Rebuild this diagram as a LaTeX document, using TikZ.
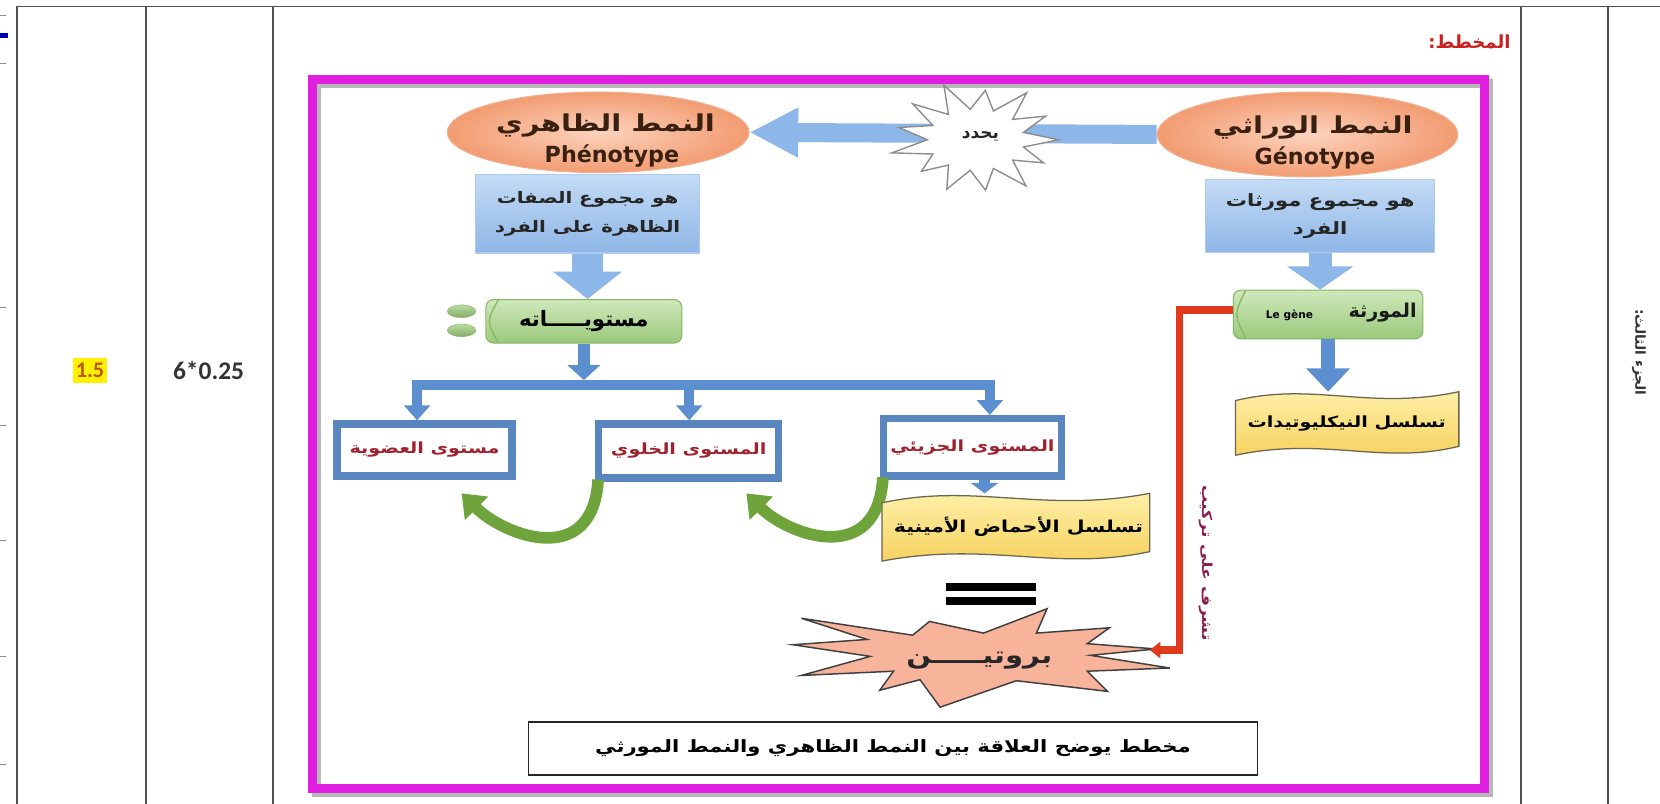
\documentclass[tikz,border=0pt]{standalone}
\usepackage{fontspec}
\setmainfont{Liberation Sans}
\newfontfamily\arfont[Script=Arabic]{DejaVu Sans}
\newfontfamily\arwide[Script=Arabic, FakeStretch=1.25]{DejaVu Sans}
\newfontfamily\latbold{DejaVu Sans}
\newfontfamily\calfont{Carlito}
\TeXXeTstate=1
\usetikzlibrary{arrows.meta,calc,shapes.geometric}
\newcommand\AR[1]{{\arfont\beginR #1\endR}}
\newcommand\ARW[1]{{\arwide\beginR #1\endR}}

\definecolor{frameMag}{HTML}{E01FE0}
\definecolor{rule}{HTML}{505050}
\definecolor{salmonIn}{HTML}{FCD3BD}
\definecolor{salmonOut}{HTML}{F29C72}
\definecolor{salmonEdge}{HTML}{F3AE8C}
\definecolor{inkBrown}{HTML}{3A2010}
\definecolor{skyTop}{HTML}{C4DBF5}
\definecolor{skyBot}{HTML}{8EB6E6}
\definecolor{skyArrow}{HTML}{8DB7E8}
\definecolor{steel}{HTML}{5B8FD0}
\definecolor{boxBlue}{HTML}{5A86C0}
\definecolor{leafTop}{HTML}{CFE8BA}
\definecolor{leafBot}{HTML}{9BC97C}
\definecolor{leafEdge}{HTML}{88B768}
\definecolor{levelInk}{HTML}{A0222E}
\definecolor{arcGreen}{HTML}{6FA43C}
\definecolor{wheatTop}{HTML}{FFF3B2}
\definecolor{wheatBot}{HTML}{F5CE55}
\definecolor{wheatEdge}{HTML}{6B6650}
\definecolor{linkRed}{HTML}{E0391E}
\definecolor{linkInk}{HTML}{8A1F4E}
\definecolor{protFill}{HTML}{F7B49A}
\definecolor{titleRed}{HTML}{CC2020}
\definecolor{scoreInk}{HTML}{C0550F}

% wavy banner between (x0,y0) and (x1,y1)
\newcommand\wavebanner[4]{%
  \path[top color=wheatTop, bottom color=wheatBot, draw=wheatEdge, line width=1.2pt]
    ({#1},{#2+0.14*(#4-#2)})
    .. controls ({#1+0.35*(#3-#1)},{#2-0.16*(#4-#2)}) and ({#1+0.6*(#3-#1)},{#2+0.30*(#4-#2)}) .. ({#3},{#2})
    -- ({#3},{#4-0.14*(#4-#2)})
    .. controls ({#3-0.35*(#3-#1)},{#4+0.16*(#4-#2)}) and ({#3-0.6*(#3-#1)},{#4-0.30*(#4-#2)}) .. ({#1},{#4})
    -- cycle;}

\begin{document}
\begin{tikzpicture}[x=1pt,y=-1pt,
  fs/.style={font=\fontsize{#1}{#1}\selectfont\bfseries},
  oval/.style={ellipse, inner color=salmonIn, outer color=salmonOut, draw=salmonEdge,
    line width=1pt, inner sep=0pt},
  skybox/.style={rectangle, top color=skyTop, bottom color=skyBot, draw=skyTop!60!skyBot,
    line width=1pt, align=center, inner sep=0pt, text=black!85},
  leafbox/.style={rectangle, rounded corners=7pt, top color=leafTop, bottom color=leafBot,
    draw=leafEdge, line width=1pt, inner sep=0pt},
  levelbox/.style={rectangle, draw=boxBlue, line width=7pt, fill=white, inner sep=0pt,
    text=levelInk, fs=14.5},
  plain/.style={inner sep=0pt, outer sep=0pt},
  greenarc/.style={arcGreen, line width=11pt, -{Triangle[length=20pt,width=30pt]}},
  drop/.style={steel, line width=9pt, -{Triangle[length=14pt,width=24pt]}},
  burst/.style={fill=white, draw=black!45, line width=1.3pt, line join=miter},
  tablerule/.style={rule, line width=1.6pt}
]
\useasboundingbox (0,0) rectangle (1568,759);
\fill[white] (0,0) rectangle (1568,759);

% ---------- table frame ----------
\draw[tablerule] (16,6) -- (1568,6);
\foreach \xx in {16,138,258,1437,1519} \draw[tablerule] (\xx,6) -- (\xx,759);
\fill[blue!70!black] (0,31) rectangle (8,36);
\foreach \yy in {15,60,290,402,510,620,722} \draw[black!45, line width=0.8pt] (0,\yy) -- (6,\yy);

\node[fill=yellow, inner xsep=3pt, inner ysep=5pt, text=scoreInk, font=\calfont\bfseries\fontsize{21}{21}\selectfont] (score) at (85,350) {1.5};
\node[text=black!80, font=\calfont\bfseries\fontsize{24}{24}\selectfont] (formula) at (197,350) {6*0.25};
\node[fs=13, text=black!80, rotate=-90] (part) at (1548,333) {\AR{الجزء الثالث:}};
\node[fs=17, text=titleRed] (title) at (1388,40) {\AR{المخطط:}};

% ---------- magenta frame ----------
\draw[black!28, line width=8pt] (299,79) rectangle (1406,749);
\draw[frameMag, line width=8pt] (295,75) rectangle (1402,745);

% ---------- genotype / phenotype ----------
\node[oval, minimum width=285pt, minimum height=76pt] (pheno) at (565,125) {};
\node[fs=22, text=inkBrown] (phenoAr) at (572,119) {\ARW{النمط الظاهري}};
\node[font=\latbold\bfseries\fontsize{21}{21}\selectfont, text=inkBrown] (phenoLat) at (578,147) {Phénotype};
\node[oval, minimum width=284pt, minimum height=80pt] (geno) at (1235,127) {};
\node[fs=22, text=inkBrown] (genoAr) at (1240,120) {\ARW{النمط الوراثي}};
\node[font=\latbold\bfseries\fontsize{21}{21}\selectfont, text=inkBrown] (genoLat) at (1242,149) {Génotype};

\draw[skyArrow, line width=18pt, -{Triangle[length=46pt,width=44pt]}] (geno.west) -- (pheno.east);

\begin{scope}[shift={(922,132)}]
  \path[burst] (0:78 and 50) -- (13.85:46 and 29) -- (27.7:72 and 47) -- (41.5:46 and 29)
    -- (55.4:83 and 53) -- (69.2:46 and 29) -- (83.1:74 and 48) -- (97:46 and 29)
    -- (110.8:78 and 50) -- (124.6:46 and 29) -- (138.5:69 and 45) -- (152.3:46 and 29)
    -- (166.2:82 and 52) -- (180:46 and 29) -- (193.9:75 and 48) -- (207.7:46 and 29)
    -- (221.6:80 and 51) -- (235.4:46 and 29) -- (249.3:86 and 55) -- (263.1:46 and 29)
    -- (277:72 and 47) -- (290.8:46 and 29) -- (304.7:84 and 54) -- (318.5:46 and 29)
    -- (332.4:74 and 48) -- (346.2:46 and 29) -- cycle;
\end{scope}
\node[fs=16, text=black!85] (determines) at (926,129) {\AR{يحدد}};

\node[skybox, minimum width=212pt, minimum height=74pt, fs=15] (phenrect) at (555,202)
  {\ARW{هو مجموع الصفات}\\[11pt]\ARW{الظاهرة على الفرد}};
\node[skybox, minimum width=216pt, minimum height=69pt, fs=16] (genrect) at (1247,204)
  {\ARW{هو مجموع مورثات}\\[9pt]\ARW{الفرد}};

% ---------- levels heading and gene ----------
\node[leafbox, minimum width=185pt, minimum height=41pt, fs=20] (levels) at (551.5,303.5) {\AR{مستويـــــاته}};
\draw[leafEdge, line width=1.3pt] ($(levels.north west)+(12,1)$) .. controls ($(levels.west)+(1,0)$) .. ($(levels.south west)+(12,-1)$);
\node[ellipse, minimum width=27pt, minimum height=12pt, top color=leafTop!60!leafBot, bottom color=leafBot!85!black,
  draw=leafEdge, inner sep=0pt] (dotA) at (436,294) {};
\node[ellipse, minimum width=27pt, minimum height=12pt, top color=leafTop!60!leafBot, bottom color=leafBot!85!black,
  draw=leafEdge, inner sep=0pt] (dotB) at (436,312) {};

\node[leafbox, minimum width=179pt, minimum height=46pt] (gene) at (1254.5,297) {};
\draw[leafEdge, line width=1.3pt] ($(gene.north west)+(12,1)$) .. controls ($(gene.west)+(1,0)$) .. ($(gene.south west)+(12,-1)$);
\node[fs=18, text=black!90] (genename) at (1306,295) {\AR{المورثة}};
\node[font=\latbold\bfseries\fontsize{10}{10}\selectfont] (genelatin) at (1218,298) {Le gène};

\draw[skyArrow, line width=30pt, -{Triangle[length=26pt,width=64pt]}] (phenrect.south) -- (phenrect.south |- levels.north);
\draw[skyArrow, line width=22pt, -{Triangle[length=22pt,width=62pt]}] (genrect.south) -- (genrect.south |- gene.north);

% ---------- nucleotide sequence ----------
\wavebanner{1167}{370}{1378}{430}
\node[plain, minimum width=211pt, minimum height=60pt, fs=14.5] (nucl) at (1272,400) {\ARW{تسلسل النيكليوتيدات}};
\draw[steel, line width=13pt, -{Triangle[length=22pt,width=40pt]}] (gene.south) -- (gene.south |- nucl.north);

% ---------- the three levels ----------
\coordinate (barL) at (394,363.5);
\coordinate (barM) at (651,363.5);
\coordinate (barR) at (935,363.5);
\node[levelbox, minimum width=165pt, minimum height=49pt] (organism) at (401,425) {\ARW{مستوى العضوية}};
\node[levelbox, minimum width=170pt, minimum height=51pt] (cell) at (650.5,426) {\ARW{المستوى الخلوي}};
\node[levelbox, minimum width=168pt, minimum height=54pt] (molecule) at (918.5,422.5) {\ARW{المستوى الجزيئي}};

\draw[steel, line width=12pt, -{Triangle[length=14pt,width=30pt]}] (levels.south) -- ($(levels.south |- barL)+(0,-4.5)$);
\draw[steel, line width=9pt] ($(barL)+(-4.5,0)$) -- ($(barR)+(4.5,0)$);
\draw[drop] (barL) -- (barL |- organism.north);
\draw[drop] (barM) -- (barM |- cell.north);
\draw[drop] (barR) -- (barR |- molecule.north);

\draw[greenarc] ($(cell.south west)+(3,-2)$) .. controls +(-5,85) and +(40,40) .. ($(cell.south west)+(-126,11)$);
\draw[greenarc] ($(molecule.south west)+(3,-2)$) .. controls +(-5,85) and +(40,40) .. ($(molecule.south west)+(-126,13)$);

% ---------- amino-acid sequence ----------
\wavebanner{833}{466}{1086}{530}
\node[plain, minimum width=253pt, minimum height=64pt, fs=15.5] (amino) at (962,498) {\ARW{تسلسل الأحماض الأمينية}};
\coordinate (dropX) at (930,0);
\draw[steel, line width=10pt, -{Triangle[length=10pt,width=26pt]}] (molecule.south -| dropX) -- (amino.north -| dropX);

% ---------- equals sign ----------
\fill[black] (894,551) rectangle (979,558);
\fill[black] (894,564) rectangle (979,571);

% ---------- protein ----------
\path[fill=protFill, draw=black!75, line width=1.4pt, line join=miter]
  (1046,653) -- (960,643) -- (888,668) -- (869,642) -- (831,652) -- (844,634) -- (757,638)
  -- (822,620) -- (749,609) -- (819,604) -- (757,584) -- (862,600) -- (878,587) -- (929,598)
  -- (989,575) -- (979,598) -- (1048,593) -- (1027,608) -- (1092,613) -- (1030,619)
  -- (1105,631) -- (1027,634) -- cycle;
\node[fs=22, text=black!85] (protein) at (925,624) {\ARW{بروتيـــــن}};

% ---------- gene to protein link ----------
\coordinate (linkX) at (1114,0);
\coordinate (geneOut) at ($(gene.west)+(0,-4)$);
\coordinate (protTip) at (1086,614);
\draw[linkRed, line width=7pt, -{Triangle[length=10pt,width=15pt]}] (geneOut) -- (geneOut -| linkX) |- (protTip);
\node[fs=13, text=linkInk, rotate=-90] (linknote) at (1139,532) {\ARW{تشرف على تركيب}};

% ---------- caption ----------
\node[draw=black!85, line width=1.2pt, fill=white, minimum width=689pt, minimum height=50pt, fs=16] (caption)
  at (843.5,707) {\ARW{مخطط يوضح العلاقة بين النمط الظاهري والنمط المورثي}};
\end{tikzpicture}
\end{document}
